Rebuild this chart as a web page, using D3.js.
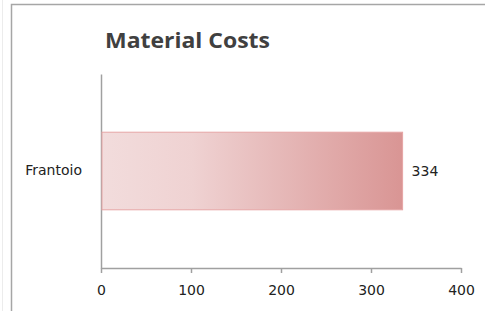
<!DOCTYPE html>
<html>
<head>
<meta charset="utf-8">
<script src="https://cdn.jsdelivr.net/npm/d3@7"></script>
<style>
  html, body { margin: 0; padding: 0; background: #fff; }
  svg { display: block; }
</style>
</head>
<body>
<div id="chart"></div>
<script>
// data
const categories = ['Frantoio']
const values = [334]
const xTicks = [0, 100, 200, 300, 400]
const chartTitle = 'Material Costs'

const width = 485
const height = 311
const margin = { top: 74, right: 24, bottom: 43, left: 101 }
const labelFont = 'DejaVu Sans, Verdana, sans-serif'

const svg = d3.select('#chart')
  .append('svg')
  .attr('width', width)
  .attr('height', height)

// gradient for bar
const defs = svg.append('defs')
const grad = defs.append('linearGradient')
  .attr('id', 'barGrad')
  .attr('x1', '0%').attr('x2', '100%')
  .attr('y1', '0%').attr('y2', '0%')
grad.append('stop').attr('offset', '0%').attr('stop-color', '#f2dcdc')
grad.append('stop').attr('offset', '30%').attr('stop-color', '#efd2d2')
grad.append('stop').attr('offset', '100%').attr('stop-color', '#d99594')

// chart frame
svg.append('line')
  .attr('x1', 2.5).attr('x2', 2.5).attr('y1', 0).attr('y2', height)
  .attr('stroke', '#ececec').attr('stroke-width', 1)
svg.append('path')
  .attr('d', `M11.5,${height}V4.5H${width}`)
  .attr('fill', 'none')
  .attr('stroke', '#a6a6a6')
  .attr('stroke-width', 1.5)

// title
svg.append('text')
  .attr('x', 105)
  .attr('y', 48)
  .attr('font-family', 'Open Sans, sans-serif')
  .attr('font-weight', 'bold')
  .attr('font-size', 21)
  .attr('fill', '#404040')
  .attr('textLength', 165)
  .attr('lengthAdjust', 'spacingAndGlyphs')
  .text(chartTitle)

const x = d3.scaleLinear()
  .domain([0, 400])
  .range([margin.left, width - margin.right])

const y = d3.scaleBand()
  .domain(categories)
  .range([margin.top, height - margin.bottom])
  .paddingInner(0)
  .paddingOuter(0.75)

const xAxis = svg.append('g')
  .attr('transform', `translate(0,${height - margin.bottom})`)
  .call(d3.axisBottom(x).tickValues(xTicks).tickSize(5).tickSizeOuter(0).tickPadding(12))
xAxis.select('.domain').attr('stroke', '#a0a0a0').attr('stroke-width', 1.5)
xAxis.selectAll('.tick line').attr('stroke', '#a0a0a0').attr('stroke-width', 1.5)
xAxis.selectAll('.tick text')
  .attr('font-family', labelFont)
  .attr('font-size', 14)
  .attr('fill', '#222')

const yAxis = svg.append('g')
  .attr('transform', `translate(${margin.left},0)`)
  .call(d3.axisLeft(y).tickSize(0).tickPadding(19))
yAxis.select('.domain').attr('stroke', '#a0a0a0').attr('stroke-width', 1.5)
yAxis.selectAll('.tick text')
  .attr('font-family', labelFont)
  .attr('font-size', 14)
  .attr('fill', '#222')

// bars
svg.append('g')
  .selectAll('rect')
  .data(values)
  .join('rect')
  .attr('x', x(0) + 1)
  .attr('y', (d, i) => y(categories[i]))
  .attr('width', d => x(d) - x(0))
  .attr('height', y.bandwidth())
  .attr('fill', 'url(#barGrad)')
  .attr('stroke', '#e6a5a5')
  .attr('stroke-width', 1)

// value labels
svg.append('g')
  .selectAll('text')
  .data(values)
  .join('text')
  .attr('x', d => x(d) + 10)
  .attr('y', (d, i) => y(categories[i]) + y.bandwidth() / 2)
  .attr('dy', '0.35em')
  .attr('font-family', labelFont)
  .attr('font-size', 14)
  .attr('fill', '#222')
  .text(d => d)
</script>
</body>
</html>
